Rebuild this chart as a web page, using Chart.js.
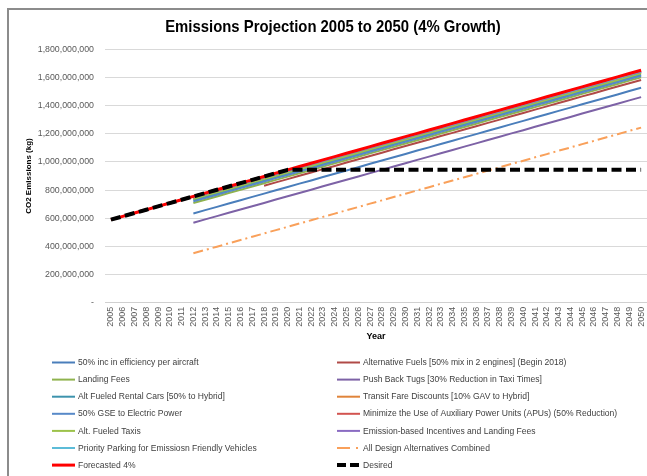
<!DOCTYPE html>
<html>
<head>
<meta charset="utf-8">
<title>Emissions Projection</title>
<script src="https://cdn.jsdelivr.net/npm/chart.js@4.4.1/dist/chart.umd.min.js"></script>
<style>
    body { margin: 0; background: #fff; }
    #wrap { position: relative; width: 647px; height: 476px; overflow: hidden; }
    #frame {
        position: absolute; left: 7px; top: 8px; width: 700px; height: 520px;
        border-left: 2px solid #8c8c8c; border-top: 2px solid #8c8c8c;
        pointer-events: none;
    }
</style>
</head>
<body>
<div id="wrap">
    <canvas id="emissions" width="647" height="476"></canvas>
    <div id="frame"></div>
</div>
<script>
// all values are millions of kg of CO2
var years = ['2005', '2006', '2007', '2008', '2009', '2010', '2011', '2012', '2013', '2014',
    '2015', '2016', '2017', '2018', '2019', '2020', '2021', '2022', '2023', '2024',
    '2025', '2026', '2027', '2028', '2029', '2030', '2031', '2032', '2033', '2034',
    '2035', '2036', '2037', '2038', '2039', '2040', '2041', '2042', '2043', '2044',
    '2045', '2046', '2047', '2048', '2049', '2050'];

var yTicks = [0, 200, 400, 600, 800, 1000, 1200, 1400, 1600, 1800];

// 2005 - 2050
var forecast = [590, 613.6, 637.2, 660.8, 684.4, 708, 731.6, 755.2, 778.8, 802.4,
    826, 849.6, 873.2, 896.8, 920.4, 944, 967.6, 991.2, 1014.8, 1038.4,
    1062, 1085.6, 1109.2, 1132.8, 1156.4, 1180, 1203.6, 1227.2, 1250.8, 1274.4,
    1298, 1321.6, 1345.2, 1368.8, 1392.4, 1416, 1439.6, 1463.2, 1486.8, 1510.4,
    1534, 1557.6, 1581.2, 1604.8, 1628.4, 1652];

var desired = [590, 613.6, 637.2, 660.8, 684.4, 708, 731.6, 755.2, 778.8, 802.4,
    826, 849.6, 873.2, 896.8, 920.4, 944, 944, 944, 944, 944,
    944, 944, 944, 944, 944, 944, 944, 944, 944, 944,
    944, 944, 944, 944, 944, 944, 944, 944, 944, 944,
    944, 944, 944, 944, 944, 944];

// 2012 - 2050
var efficiency = [634, 658, 681, 705, 728, 752, 775, 799, 822, 846, 869, 893, 916, 940, 963, 987, 1010, 1034, 1057, 1081,
    1104, 1128, 1151, 1175, 1198, 1222, 1245, 1269, 1292, 1316, 1339, 1363, 1386, 1410, 1433, 1457, 1480, 1504, 1527];
var landingFees = [708, 732, 755, 779, 802, 826, 849, 873, 896, 920, 943, 967, 990, 1014, 1037, 1061, 1084, 1108, 1131, 1155,
    1178, 1202, 1225, 1249, 1272, 1296, 1319, 1343, 1366, 1390, 1413, 1437, 1460, 1484, 1507, 1531, 1554, 1578, 1601];
var pushBackTugs = [568, 592, 615, 639, 662, 686, 709, 733, 756, 780, 803, 827, 850, 874, 897, 921, 944, 968, 991, 1015,
    1038, 1062, 1085, 1109, 1132, 1156, 1179, 1203, 1226, 1250, 1273, 1297, 1320, 1344, 1367, 1391, 1414, 1438, 1461];
var rentalCars = [728, 752, 775, 799, 822, 846, 869, 893, 916, 940, 963, 987, 1010, 1034, 1057, 1081, 1104, 1128, 1151, 1175,
    1198, 1222, 1245, 1269, 1292, 1316, 1339, 1363, 1386, 1410, 1433, 1457, 1480, 1504, 1527, 1551, 1574, 1598, 1621];
var transitFare = [742, 766, 789, 813, 836, 860, 883, 907, 930, 954, 977, 1001, 1024, 1048, 1071, 1095, 1118, 1142, 1165, 1189,
    1212, 1236, 1259, 1283, 1306, 1330, 1353, 1377, 1400, 1424, 1447, 1471, 1494, 1518, 1541, 1565, 1588, 1612, 1635];
var gseElectric = [720, 744, 767, 791, 814, 838, 861, 885, 908, 932, 955, 979, 1002, 1026, 1049, 1073, 1096, 1120, 1143, 1167,
    1190, 1214, 1237, 1261, 1284, 1308, 1331, 1355, 1378, 1402, 1425, 1449, 1472, 1496, 1519, 1543, 1566, 1590, 1613];
var apuReduction = [746, 770, 793, 817, 840, 864, 887, 911, 934, 958, 981, 1005, 1028, 1052, 1075, 1099, 1122, 1146, 1169, 1193,
    1216, 1240, 1263, 1287, 1310, 1334, 1357, 1381, 1404, 1428, 1451, 1475, 1498, 1522, 1545, 1569, 1592, 1616, 1639];
var fueledTaxis = [737, 761, 784, 808, 831, 855, 878, 902, 925, 949, 972, 996, 1019, 1043, 1066, 1090, 1113, 1137, 1160, 1184,
    1207, 1231, 1254, 1278, 1301, 1325, 1348, 1372, 1395, 1419, 1442, 1466, 1489, 1513, 1536, 1560, 1583, 1607, 1630];
var emissionIncentives = [748, 772, 795, 819, 842, 866, 889, 913, 936, 960, 983, 1007, 1030, 1054, 1077, 1101, 1124, 1148, 1171, 1195,
    1218, 1242, 1265, 1289, 1312, 1336, 1359, 1383, 1406, 1430, 1453, 1477, 1500, 1524, 1547, 1571, 1594, 1618, 1641];
var priorityParking = [751, 775, 798, 822, 845, 869, 892, 916, 939, 963, 986, 1010, 1033, 1057, 1080, 1104, 1127, 1151, 1174, 1198,
    1221, 1245, 1268, 1292, 1315, 1339, 1362, 1386, 1409, 1433, 1456, 1480, 1503, 1527, 1550, 1574, 1597, 1621, 1644];
var allCombined = [351, 375, 398, 422, 445, 469, 492, 516, 539, 563, 586, 610, 633, 657, 680, 704, 727, 751, 774, 798,
    821, 845, 868, 892, 915, 939, 962, 986, 1009, 1033, 1056, 1080, 1103, 1127, 1150, 1174, 1197, 1221, 1244];

// 2018 - 2050
var altFuels = [831, 855, 878, 902, 925, 949, 972, 996, 1019, 1043, 1066, 1090, 1113, 1137, 1160, 1184, 1207, 1231, 1254, 1278,
    1301, 1325, 1348, 1372, 1395, 1419, 1442, 1466, 1489, 1513, 1536, 1560, 1583];

var chartTitle = 'Emissions Projection 2005 to 2050 (4% Growth)';
var fontFamily = '"Liberation Sans", Arial, sans-serif';

// pad a series that starts later than 2005 with empty points
function fromYear(start, values) {
    var pad = years.indexOf(String(start));
    return new Array(pad).fill(null).concat(values);
}

function line(label, data, color, width, dash, keyDash, keyWidth) {
    return {
        label: label,
        data: data,
        borderColor: color,
        backgroundColor: color,
        borderWidth: width,
        borderDash: dash || [],
        keyDash: keyDash || dash || [],
        keyWidth: keyWidth || width,
        pointRadius: 0,
        pointHoverRadius: 0,
        tension: 0,
        fill: false,
        borderJoinStyle: 'round'
    };
}

var datasets = [
    line('50% inc in efficiency per aircraft', fromYear(2012, efficiency), '#4a7ebb', 2),
    line('Alternative Fuels [50% mix in 2 engines] (Begin 2018)', fromYear(2018, altFuels), '#b04a47', 2),
    line('Landing Fees', fromYear(2012, landingFees), '#8fb34e', 2),
    line('Push Back Tugs [30% Reduction in Taxi Times]', fromYear(2012, pushBackTugs), '#7d62a6', 2),
    line('Alt Fueled Rental Cars [50% to Hybrid]', fromYear(2012, rentalCars), '#3d93ad', 2),
    line('Transit Fare Discounts [10% GAV to Hybrid]', fromYear(2012, transitFare), '#e0843a', 2),
    line('50% GSE to Electric Power', fromYear(2012, gseElectric), '#5789c8', 2),
    line('Minimize the Use of Auxiliary Power Units (APUs) (50% Reduction)', fromYear(2012, apuReduction), '#d25450', 2),
    line('Alt. Fueled Taxis', fromYear(2012, fueledTaxis), '#9cc24a', 2),
    line('Emission-based Incentives and Landing Fees', fromYear(2012, emissionIncentives), '#8a6bc2', 2),
    line('Priority Parking for Emissiosn Friendly Vehicles', fromYear(2012, priorityParking), '#5cbcd8', 2),
    line('All Design Alternatives Combined', fromYear(2012, allCombined), '#f9a05a', 2, [10, 4, 2, 4], [13, 6, 2, 20]),
    line('Forecasted 4%', forecast, '#ff0000', 3),
    line('Desired', desired, '#000000', 4, [10, 4.5], [9, 4])
];

// later series are painted over earlier ones
datasets.forEach(function (ds, i) { ds.order = datasets.length - i; });

// text squeezed sideways so it sits in the same room as the narrow office font
function squeezedText(c, text, x, y, sx, align) {
    c.save();
    c.translate(x, y);
    c.scale(sx, 1);
    c.textAlign = align;
    c.fillText(text, 0, 0);
    c.restore();
}

// heading plus two column key under the plot
var textPlugin = {
    id: 'headingAndKey',
    afterDraw: function (chart) {
        var c = chart.ctx;
        var sets = chart.data.datasets;
        c.save();
        c.textBaseline = 'middle';

        c.fillStyle = '#000';
        c.font = 'bold 17px ' + fontFamily;
        squeezedText(c, chartTitle, 333, 27.5, 0.875, 'center');

        c.font = '9.5px ' + fontFamily;
        for (var i = 0; i < sets.length; i++) {
            var x = i % 2 === 0 ? 52 : 337;
            var y = 362.5 + Math.floor(i / 2) * 17.1;
            c.beginPath();
            c.strokeStyle = sets[i].borderColor;
            c.lineWidth = sets[i].keyWidth;
            c.setLineDash(sets[i].keyDash);
            c.moveTo(x, y);
            c.lineTo(x + 23, y);
            c.stroke();
            c.setLineDash([]);
            c.fillStyle = '#404040';
            squeezedText(c, sets[i].label, x + 26, y, 0.9, 'left');
        }
        c.restore();
    }
};

var ctx = document.getElementById('emissions');

var emissionsChart = new Chart(ctx, {
    type: 'line',
    data: {
        labels: years,
        datasets: datasets
    },
    plugins: [textPlugin],
    options: {
        responsive: false,
        animation: false,
        layout: {
            padding: { left: 0, right: 0, top: 49.4, bottom: 131 }
        },
        plugins: {
            legend: { display: false },
            tooltip: { enabled: false },
            title: { display: false }
        },
        scales: {
            x: {
                offset: true,
                grid: { display: false, drawTicks: false },
                border: { display: true, color: '#d0d0d0', width: 1 },
                ticks: {
                    autoSkip: false,
                    minRotation: 90,
                    maxRotation: 90,
                    padding: 4,
                    color: '#595959',
                    font: { family: fontFamily, size: 9 }
                },
                title: {
                    display: true,
                    text: 'Year',
                    color: '#000',
                    font: { family: fontFamily, size: 9, weight: 'bold' },
                    padding: { top: 0, bottom: 3 }
                },
                afterFit: function (scale) {
                    scale.height = 42.3;
                    scale.paddingLeft = 0;
                    scale.paddingRight = 0;
                }
            },
            y: {
                min: 0,
                max: 1800,
                afterBuildTicks: function (scale) {
                    scale.ticks = yTicks.map(function (v) { return { value: v }; });
                },
                grid: { color: '#d9d9d9', lineWidth: 1, drawTicks: false },
                border: { display: false },
                ticks: {
                    padding: 11,
                    color: '#595959',
                    font: { family: fontFamily, size: 8.8 },
                    callback: function (value) {
                        // accounting style: zero shows as a dash
                        if (value === 0) return '-';
                        return (value * 1000000).toLocaleString('en-US');
                    }
                },
                title: {
                    display: true,
                    text: 'CO2 Emissions (kg)',
                    color: '#000',
                    font: { family: fontFamily, size: 8, weight: 'bold' },
                    padding: { top: 24, bottom: 0 }
                },
                afterFit: function (scale) { scale.width = 105; }
            }
        }
    }
});
</script>
</body>
</html>
